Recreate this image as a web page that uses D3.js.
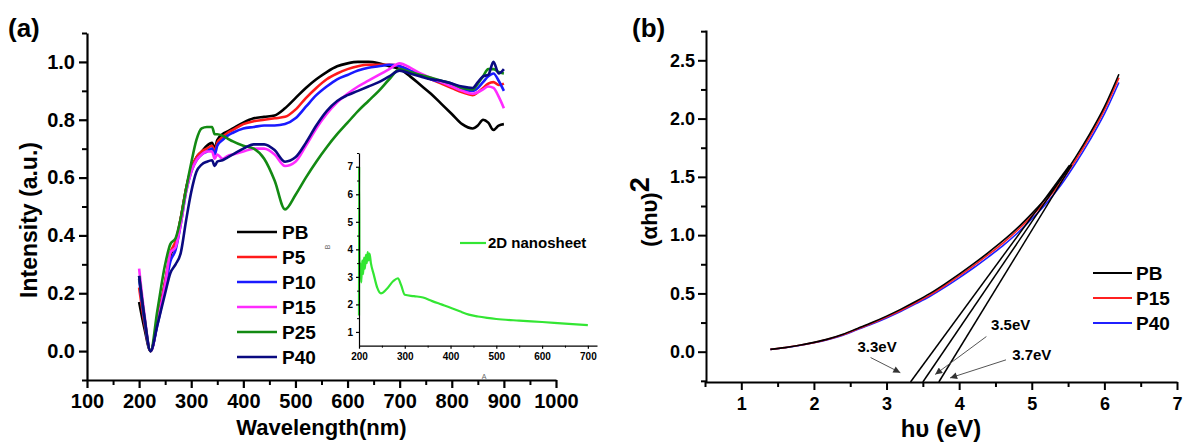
<!DOCTYPE html>
<html>
<head>
<meta charset="utf-8">
<script src="https://cdn.jsdelivr.net/npm/d3@7"></script>
<style>
  body { margin: 0; background: #fff; }
  svg { display: block; }
</style>
</head>
<body>
<svg id="chart" width="1183" height="444"></svg>
<script>
// ---- panel (a): normalised UV-vis spectra ----
const wavelength = [200,210,222,235,250,260,270,280,290,300, 310,320,330,340,345,350,360,370,380,400,
  420,440,460,480,500,520,540,560,580,600, 620,640,660,680,700,720,740,760,780,800,
  820,840,850,860,870,880,890,900];
const intensityPB = [0.17,0.08,0.0,0.1,0.24,0.33,0.37,0.46,0.56,0.63, 0.67,0.69,0.71,0.72,0.70,0.73,0.75,0.76,0.77,0.79,
  0.805,0.81,0.815,0.84,0.875,0.91,0.94,0.965,0.985,0.995, 1.0,1.0,0.995,0.985,0.975,0.95,0.92,0.89,0.855,0.82,
  0.785,0.77,0.78,0.80,0.79,0.765,0.78,0.785];
const intensityP5 = [0.22,0.1,0.0,0.1,0.24,0.34,0.38,0.46,0.56,0.63, 0.67,0.69,0.70,0.71,0.69,0.72,0.74,0.755,0.765,0.785,
  0.795,0.80,0.805,0.81,0.835,0.875,0.91,0.94,0.96,0.975, 0.985,0.99,0.99,0.99,0.985,0.97,0.955,0.94,0.925,0.91,
  0.895,0.885,0.895,0.91,0.925,0.93,0.92,0.925];
const intensityP10 = [0.25,0.11,0.0,0.09,0.22,0.31,0.35,0.44,0.55,0.62, 0.66,0.68,0.69,0.70,0.68,0.71,0.73,0.745,0.755,0.77,
  0.775,0.78,0.78,0.785,0.805,0.845,0.885,0.915,0.94,0.955, 0.97,0.98,0.985,0.99,0.985,0.97,0.955,0.94,0.93,0.92,
  0.905,0.90,0.91,0.93,0.95,0.96,0.935,0.90];
const intensityP15 = [0.285,0.13,0.0,0.1,0.23,0.34,0.36,0.44,0.55,0.62, 0.66,0.68,0.69,0.69,0.665,0.68,0.665,0.675,0.68,0.69,
  0.70,0.70,0.68,0.64,0.655,0.71,0.77,0.82,0.86,0.89, 0.915,0.935,0.955,0.975,0.995,0.98,0.96,0.945,0.93,0.915,
  0.90,0.89,0.895,0.905,0.915,0.91,0.88,0.84];
const intensityP25 = [0.26,0.12,0.0,0.14,0.3,0.37,0.39,0.46,0.56,0.65, 0.73,0.77,0.775,0.775,0.75,0.75,0.745,0.735,0.725,0.71,
  0.70,0.665,0.59,0.49,0.54,0.6,0.655,0.705,0.75,0.79, 0.83,0.865,0.9,0.94,0.975,0.965,0.955,0.945,0.935,0.925,
  0.91,0.905,0.925,0.95,0.975,0.975,0.965,0.96];
const intensityP40 = [0.26,0.12,0.0,0.09,0.2,0.27,0.3,0.34,0.45,0.55, 0.62,0.645,0.655,0.66,0.64,0.655,0.66,0.67,0.68,0.70,
  0.715,0.715,0.695,0.655,0.67,0.72,0.78,0.83,0.865,0.885, 0.9,0.915,0.93,0.95,0.97,0.96,0.95,0.94,0.935,0.925,
  0.915,0.91,0.93,0.95,0.955,1.0,0.96,0.975];
const samplesA = ["PB", "P5", "P10", "P15", "P25", "P40"];
const xTicksA = [100,200,300,400,500,600,700,800,900,1000];
const yTicksA = [0.0,0.2,0.4,0.6,0.8,1.0];

// inset: 2D nanosheet absorbance
const insetWl = [200,200.3,201,203,205,207,209,211,213,215, 217,219,221,223,226,232,240,248,260,275,
  285,292,300,320,340,360,380,400,420,440, 460,480,500,550,600,650,700];
const insetAbs = [1.6,7.0,3.0,3.5,2.8,3.6,3.1,3.7,3.3,3.8, 3.5,3.9,3.6,3.85,3.5,3.1,2.6,2.4,2.55,2.85,
  2.95,2.7,2.35,2.3,2.25,2.12,2.0,1.88,1.75,1.63, 1.56,1.51,1.47,1.41,1.36,1.3,1.25];
const xTicksInset = [200,300,400,500,600,700];
const yTicksInset = [1,2,3,4,5,6,7];

// ---- panel (b): Tauc plot ----
const photonEnergy = [1.4,1.6,1.8,2.0,2.2,2.4,2.6,2.8,3.0,3.2,3.4,3.6,3.8,4.0,4.2,4.4,4.6,4.8,5.0,5.2,5.4,5.6,5.8,6.0,6.2];
const taucPB = [0.02,0.035,0.055,0.08,0.11,0.15,0.2,0.25,0.305,0.365,0.43,0.5,0.58,0.665,0.755,0.85,0.95,1.06,1.185,1.32,1.48,1.665,1.87,2.1,2.38];
const taucP15 = [0.02,0.035,0.055,0.078,0.108,0.146,0.195,0.245,0.298,0.356,0.42,0.488,0.566,0.65,0.738,0.832,0.93,1.04,1.163,1.298,1.455,1.64,1.845,2.075,2.35];
const taucP40 = [0.02,0.034,0.053,0.076,0.105,0.142,0.19,0.238,0.29,0.347,0.41,0.476,0.552,0.634,0.72,0.812,0.908,1.016,1.138,1.272,1.428,1.612,1.815,2.04,2.31];
const samplesB = ["PB", "P15", "P40"];
const bandGaps = [3.3, 3.5, 3.7];
const fitFootX = [3.33, 3.50, 3.72];   // where each tangent meets the bottom axis
const fitTopX = [5.52, 5.53, 5.55];
const fitTopY = [1.60, 1.60, 1.60];
const xTicksB = [1,2,3,4,5,6,7];
const yTicksB = [0.0,0.5,1.0,1.5,2.0,2.5];

const FONT = "'Liberation Sans', Arial, Helvetica, sans-serif";
const svg = d3.select("#chart").attr("font-family", FONT);

function styleAxis(g, size, sw) {
  g.attr("font-family", FONT).attr("font-size", size).attr("font-weight", "bold");
  g.select(".domain").attr("stroke", "#000").attr("stroke-width", sw);
  g.selectAll(".tick line").attr("stroke", "#000").attr("stroke-width", sw);
  g.selectAll(".tick text").attr("fill", "#000");
}
function minor(g, sw) {
  g.select(".domain").remove();
  g.selectAll(".tick line").attr("stroke", "#000").attr("stroke-width", sw);
}

// ================= panel (a) =================
const xA = d3.scaleLinear().domain([100, 1000]).range([87, 556]);
const yA = d3.scaleLinear().domain([-0.1, 1.1]).range([380, 33]);

const colorsA = { PB: "#000000", P5: "#ff1a1a", P10: "#1a1aff", P15: "#ff2bff", P25: "#138a13", P40: "#0a0a80" };
const dataA = { PB: intensityPB, P5: intensityP5, P10: intensityP10, P15: intensityP15, P25: intensityP25, P40: intensityP40 };

const lineA = d3.line()
  .x((d, i) => xA(wavelength[i]))
  .y(d => yA(d))
  .curve(d3.curveMonotoneX);

svg.append("g").selectAll("path")
  .data(samplesA)
  .join("path")
  .attr("d", s => lineA(dataA[s]))
  .attr("fill", "none")
  .attr("stroke", s => colorsA[s])
  .attr("stroke-width", 2.6)
  .attr("stroke-linejoin", "round");

svg.append("g").attr("transform", "translate(0,380)")
  .call(d3.axisBottom(xA).tickValues(d3.range(150, 1000, 100)).tickSize(5).tickFormat(""))
  .call(g => minor(g, 2));
svg.append("g").attr("transform", "translate(87,0)")
  .call(d3.axisLeft(yA).tickValues([-0.1,0.1,0.3,0.5,0.7,0.9,1.1]).tickSize(5).tickFormat(""))
  .call(g => minor(g, 2));
svg.append("g").attr("transform", "translate(0,380)")
  .call(d3.axisBottom(xA).tickValues(xTicksA).tickFormat(d3.format("d")).tickSize(8).tickPadding(6).tickSizeOuter(0))
  .call(g => styleAxis(g, 20, 2.2));
svg.append("g").attr("transform", "translate(87,0)")
  .call(d3.axisLeft(yA).tickValues(yTicksA).tickFormat(d3.format(".1f")).tickSize(8).tickPadding(4).tickSizeOuter(0))
  .call(g => styleAxis(g, 20, 2.2));

svg.append("text").attr("x", (xA.range()[0] + xA.range()[1]) / 2).attr("y", 435)
  .attr("text-anchor", "middle").attr("font-size", 22).attr("font-weight", "bold")
  .text("Wavelength(nm)");
svg.append("text").attr("transform", "translate(37,220) rotate(-90)")
  .attr("text-anchor", "middle").attr("font-size", 23).attr("font-weight", "bold")
  .text("Intensity (a.u.)");
svg.append("text").attr("x", 8).attr("y", 37).attr("font-size", 26).attr("font-weight", "bold").text("(a)");

// legend (a)
const legA = svg.append("g").selectAll("g").data(samplesA).join("g")
  .attr("transform", (s, i) => `translate(237,${232 + i * 25})`);
legA.append("line").attr("x1", 0).attr("x2", 40)
  .attr("stroke", s => colorsA[s]).attr("stroke-width", 2.6);
legA.append("text").attr("x", 45).attr("dy", "0.36em")
  .attr("font-size", 19).attr("font-weight", "bold").text(s => s);

// ---------- inset ----------
const xI = d3.scaleLinear().domain([200, 720]).range([359, 597]);
const yI = d3.scaleLinear().domain([0.5, 7.5]).range([345.7, 153]);

svg.append("path")
  .datum(insetAbs)
  .attr("d", d3.line().x((d, i) => xI(insetWl[i])).y(d => yI(d)).curve(d3.curveMonotoneX))
  .attr("fill", "none").attr("stroke", "#33e633").attr("stroke-width", 2.2);

svg.append("g").attr("transform", "translate(0,345.7)")
  .call(d3.axisBottom(xI).tickValues([250,350,450,550,650]).tickSize(2).tickFormat(""))
  .call(g => minor(g, 1));
svg.append("g").attr("transform", "translate(359,0)")
  .call(d3.axisLeft(yI).tickValues([1.5,2.5,3.5,4.5,5.5,6.5,7.5]).tickSize(2).tickFormat(""))
  .call(g => minor(g, 1));
svg.append("g").attr("transform", "translate(0,345.7)")
  .call(d3.axisBottom(xI).tickValues(xTicksInset).tickFormat(d3.format("d")).tickSize(3).tickPadding(4).tickSizeOuter(0))
  .call(g => styleAxis(g, 10, 1.2));
svg.append("g").attr("transform", "translate(359,0)")
  .call(d3.axisLeft(yI).tickValues(yTicksInset).tickFormat(d3.format("d")).tickSize(3).tickPadding(3).tickSizeOuter(0))
  .call(g => styleAxis(g, 10, 1.2));
svg.append("text").attr("transform", "translate(330,247) rotate(-90)")
  .attr("text-anchor", "middle").attr("font-size", 7).attr("fill", "#666").text("B");
svg.append("text").attr("x", 484).attr("y", 379)
  .attr("text-anchor", "middle").attr("font-size", 7).attr("fill", "#666").text("A");

svg.append("line").attr("x1", 460).attr("x2", 486).attr("y1", 243).attr("y2", 243)
  .attr("stroke", "#33e633").attr("stroke-width", 2.2);
svg.append("text").attr("x", 488).attr("y", 243).attr("dy", "0.36em")
  .attr("font-size", 15).attr("font-weight", "bold").text("2D nanosheet");

// ================= panel (b) =================
const xB = d3.scaleLinear().domain([0.5, 7]).range([705, 1177]);
const yB = d3.scaleLinear().domain([-0.26, 2.76]).range([382, 30]);

const colorsB = { PB: "#000000", P15: "#ff2020", P40: "#2020ff" };
const dataB = { PB: taucPB, P15: taucP15, P40: taucP40 };

const lineB = d3.line()
  .x((d, i) => xB(photonEnergy[i]))
  .y(d => yB(d))
  .curve(d3.curveMonotoneX);

svg.append("g").selectAll("path")
  .data(samplesB.slice().reverse())
  .join("path")
  .attr("d", s => lineB(dataB[s]))
  .attr("fill", "none")
  .attr("stroke", s => colorsB[s])
  .attr("stroke-width", 1.6);

// tangent (linear fit) lines
svg.append("g").selectAll("line")
  .data(bandGaps)
  .join("line")
  .attr("x1", (d, i) => xB(fitFootX[i])).attr("y1", yB(yB.domain()[0]))
  .attr("x2", (d, i) => xB(fitTopX[i])).attr("y2", (d, i) => yB(fitTopY[i]))
  .attr("stroke", "#000").attr("stroke-width", 1.5);

svg.append("g").attr("transform", "translate(0,382)")
  .call(d3.axisBottom(xB).tickValues([0.5,1.5,2.5,3.5,4.5,5.5,6.5]).tickSize(5).tickFormat(""))
  .call(g => minor(g, 2));
svg.append("g").attr("transform", "translate(706,0)")
  .call(d3.axisLeft(yB).tickValues([-0.25,0.25,0.75,1.25,1.75,2.25,2.75]).tickSize(5).tickFormat(""))
  .call(g => minor(g, 2));
svg.append("g").attr("transform", "translate(0,382)")
  .call(d3.axisBottom(xB).tickValues(xTicksB).tickFormat(d3.format("d")).tickSize(8).tickPadding(7).tickSizeOuter(0))
  .call(g => styleAxis(g, 18, 2));
svg.append("g").attr("transform", "translate(706,0)")
  .call(d3.axisLeft(yB).tickValues(yTicksB).tickFormat(d3.format(".1f")).tickSize(8).tickPadding(3).tickSizeOuter(0))
  .call(g => styleAxis(g, 18, 2));

// arrows + band-gap labels
const defs = svg.append("defs");
defs.append("marker").attr("id", "arrow").attr("viewBox", "0 0 10 10")
  .attr("refX", 10).attr("refY", 5).attr("markerWidth", 9).attr("markerHeight", 7)
  .attr("markerUnits", "userSpaceOnUse").attr("orient", "auto")
  .append("path").attr("d", "M0,0L10,5L0,10z").attr("fill", "#333");

const notes = [
  { tx: 2.87, ty: 0.045, x1: 2.78, y1: -0.05, x2: 3.19, y2: -0.18 },
  { tx: 4.71, ty: 0.23, x1: 4.375, y1: 0.13, x2: 3.67, y2: -0.195 },
  { tx: 5.0, ty: -0.026, x1: 4.645, y1: -0.07, x2: 3.875, y2: -0.225 }
];
const noteG = svg.append("g").selectAll("g").data(bandGaps).join("g");
noteG.append("line")
  .attr("x1", (d, i) => xB(notes[i].x1)).attr("y1", (d, i) => yB(notes[i].y1))
  .attr("x2", (d, i) => xB(notes[i].x2)).attr("y2", (d, i) => yB(notes[i].y2))
  .attr("stroke", "#555").attr("stroke-width", 1).attr("marker-end", "url(#arrow)");
noteG.append("text")
  .attr("x", (d, i) => xB(notes[i].tx)).attr("y", (d, i) => yB(notes[i].ty)).attr("dy", "0.36em")
  .attr("text-anchor", "middle").attr("font-size", 15).attr("font-weight", "bold")
  .text(d => d.toFixed(1) + "eV");

svg.append("text").attr("x", (xB.range()[0] + xB.range()[1]) / 2).attr("y", 437)
  .attr("text-anchor", "middle").attr("font-size", 24).attr("font-weight", "bold")
  .text("hυ (eV)");
const ylabB = svg.append("text").attr("transform", "translate(657,212) rotate(-90)")
  .attr("text-anchor", "middle").attr("font-weight", "bold");
ylabB.append("tspan").attr("font-size", 22).text("(αhυ)");
ylabB.append("tspan").attr("font-size", 27).attr("dy", -8).text("2");
svg.append("text").attr("x", 632).attr("y", 37).attr("font-size", 26).attr("font-weight", "bold").text("(b)");

// legend (b)
const legB = svg.append("g").selectAll("g").data(samplesB).join("g")
  .attr("transform", (s, i) => `translate(1093,${273 + i * 25})`);
legB.append("line").attr("x1", 0).attr("x2", 39)
  .attr("stroke", s => colorsB[s]).attr("stroke-width", 1.8);
legB.append("text").attr("x", 43).attr("dy", "0.36em")
  .attr("font-size", 19).attr("font-weight", "bold").text(s => s);
</script>
</body>
</html>
